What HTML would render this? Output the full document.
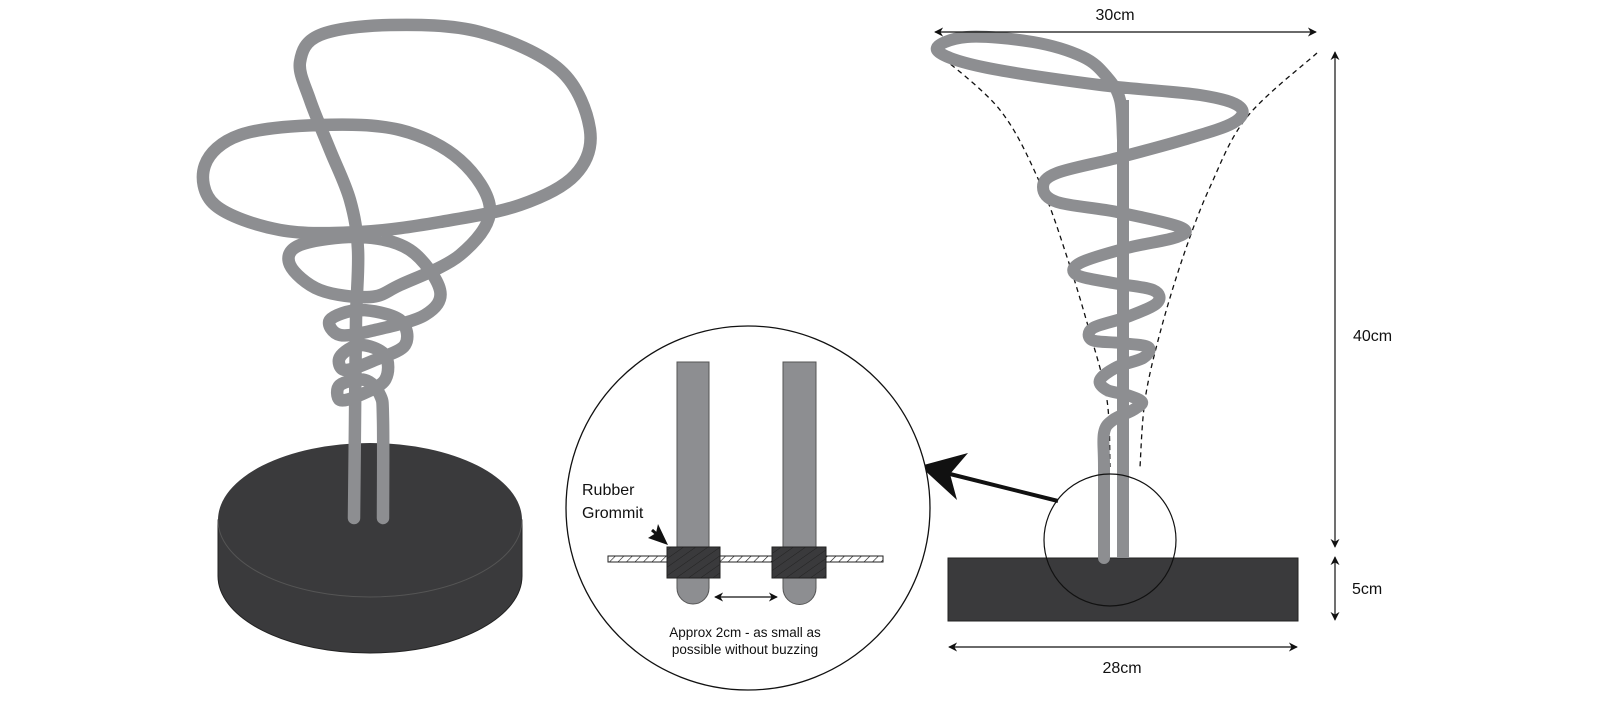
<!DOCTYPE html>
<html><head><meta charset="utf-8"><style>
html,body{margin:0;padding:0;background:#fff;width:1600px;height:708px;overflow:hidden}
svg text{font-family:"Liberation Sans",sans-serif;fill:#111}
</style></head><body>
<svg id="s" width="1600" height="708" viewBox="0 0 1600 708" xmlns="http://www.w3.org/2000/svg">
<defs>
<pattern id="hatch" width="6" height="6" patternUnits="userSpaceOnUse" patternTransform="rotate(45)">
<line x1="0" y1="0" x2="0" y2="6" stroke="#111" stroke-width="1.2"/></pattern>
<pattern id="hatch2" width="7" height="7" patternUnits="userSpaceOnUse" patternTransform="rotate(55)">
<line x1="0" y1="0" x2="0" y2="7" stroke="#222" stroke-width="1"/></pattern>
<marker id="ah" viewBox="0 0 10 10" refX="9" refY="5" markerWidth="9" markerHeight="9" orient="auto-start-reverse" markerUnits="userSpaceOnUse">
<path d="M0,0 L10,5 L0,10 L3,5 z" fill="#111"/></marker>
</defs>
<path d="M218,520 L218,576 A152,77 0 0 0 522,576 L522,520 Z" fill="#3a3a3c" stroke="#222" stroke-width="1"/>
<ellipse cx="370" cy="520" rx="152" ry="77" fill="#3a3a3c"/>
<path d="M218,520 A152,77 0 0 0 522,520" fill="none" stroke="#555" stroke-width="1"/>
<path id="lp" fill="none" stroke="#8d8e91" stroke-width="12.5" stroke-linecap="round" stroke-linejoin="round"/>

<rect x="948" y="558" width="350" height="63" fill="#3a3a3c" stroke="#222" stroke-width="1"/>
<path id="dl" fill="none" stroke="#111" stroke-width="1.3" stroke-dasharray="5,4"/>
<path id="dr" fill="none" stroke="#111" stroke-width="1.3" stroke-dasharray="5,4"/>
<path id="rp" fill="none" stroke="#8d8e91" stroke-width="12" stroke-linecap="round" stroke-linejoin="round"/>
<line x1="1123" y1="100" x2="1123" y2="558" stroke="#8d8e91" stroke-width="12"/>
<circle cx="1110" cy="540" r="66" fill="none" stroke="#111" stroke-width="1.2"/>

<line x1="935" y1="32" x2="1316" y2="32" stroke="#111" stroke-width="1.2" marker-start="url(#ah)" marker-end="url(#ah)"/>
<text x="1115" y="20" font-size="16" text-anchor="middle">30cm</text>
<line x1="1335" y1="52" x2="1335" y2="547" stroke="#111" stroke-width="1.2" marker-start="url(#ah)" marker-end="url(#ah)"/>
<text x="1353" y="341" font-size="16">40cm</text>
<line x1="1335" y1="557" x2="1335" y2="620" stroke="#111" stroke-width="1.2" marker-start="url(#ah)" marker-end="url(#ah)"/>
<text x="1352" y="594" font-size="16">5cm</text>
<line x1="949" y1="647" x2="1297" y2="647" stroke="#111" stroke-width="1.2" marker-start="url(#ah)" marker-end="url(#ah)"/>
<text x="1122" y="673" font-size="16" text-anchor="middle">28cm</text>

<line x1="1058" y1="501" x2="950" y2="474" stroke="#111" stroke-width="4"/>
<path d="M920,466 L968,453 L950,474 L957,500 Z" fill="#111"/>

<circle cx="748" cy="508" r="182" fill="#fff" stroke="#111" stroke-width="1.3"/>
<path d="M677,362 L709,362 L709,588 A16,16 0 0 1 677,588 Z" fill="#8d8e91" stroke="#555" stroke-width="1"/>
<path d="M783,362 L816,362 L816,588 A16.5,16.5 0 0 1 783,588 Z" fill="#8d8e91" stroke="#555" stroke-width="1"/>
<g stroke="#222" stroke-width="1">
<rect x="608" y="556" width="60" height="6" fill="url(#hatch)"/>
<rect x="719" y="556" width="54" height="6" fill="url(#hatch)"/>
<rect x="825" y="556" width="58" height="6" fill="url(#hatch)"/>
<rect x="667" y="547" width="53" height="31" fill="#3a3a3c"/>
<rect x="667" y="547" width="53" height="31" fill="url(#hatch2)"/>
<rect x="772" y="547" width="54" height="31" fill="#3a3a3c"/>
<rect x="772" y="547" width="54" height="31" fill="url(#hatch2)"/>
</g>
<text x="582" y="495" font-size="16">Rubber</text>
<text x="582" y="518" font-size="16">Grommit</text>
<line x1="652" y1="530" x2="660" y2="537" stroke="#111" stroke-width="3"/>
<path d="M668,545 L648,538 L656,533 L658,524 Z" fill="#111"/>
<line x1="715" y1="597" x2="777" y2="597" stroke="#111" stroke-width="1.3" marker-start="url(#ah)" marker-end="url(#ah)"/>
<text x="745" y="637" font-size="13.5" text-anchor="middle">Approx 2cm - as small as</text>
<text x="745" y="654" font-size="13.5" text-anchor="middle">possible without buzzing</text>
</svg>
<script>
function cr(p){var d="M"+p[0][0]+","+p[0][1];for(var i=0;i<p.length-1;i++){var a=p[i-1]||p[i],b=p[i],c=p[i+1],e=p[i+2]||c;
d+=" C"+(b[0]+(c[0]-a[0])/6).toFixed(1)+","+(b[1]+(c[1]-a[1])/6).toFixed(1)+" "+(c[0]-(e[0]-b[0])/6).toFixed(1)+","+(c[1]-(e[1]-b[1])/6).toFixed(1)+" "+c[0]+","+c[1];}return d;}
var L=[[354,518],[355,420],[356,320],[358,250],[350,200],[330,150],[310,100],[300,62],[320,35],[390,25],[480,32],[560,70],[590,130],[575,175],[520,205],[440,222],[360,232],[280,230],[215,205],[205,165],[240,135],[320,125],[400,130],[460,160],[490,210],[460,255],[400,285],[370,297],[320,290],[290,265],[300,245],[360,237],[410,250],[440,290],[425,315],[375,330],[340,335],[330,320],[360,310],[400,320],[405,345],[375,360],[345,370],[340,357],[360,345],[385,355],[385,380],[360,395],[340,400],[340,385],[365,380],[380,395],[383,420],[383,518]];
document.getElementById("lp").setAttribute("d",cr(L));
var R=[[1104,558],[1104,467],[1104,433],[1113,420],[1133,410],[1142,402],[1127,395],[1107,390],[1100,380],[1117,367],[1143,358],[1148,347],[1120,343],[1092,340],[1093,328],[1127,317],[1157,303],[1153,290],[1113,283],[1077,275],[1080,263],[1127,248],[1177,237],[1180,227],[1117,212],[1057,202],[1043,187],[1057,173],[1117,158],[1183,140],[1233,123],[1240,107],[1200,95],[1100,85],[983,67],[937,50],[967,37],[1033,42],[1083,57],[1107,77],[1120,100],[1123,140]];
document.getElementById("rp").setAttribute("d",cr(R));
document.getElementById("dl").setAttribute("d",cr([[937,53],[1000,110],[1040,183],[1067,257],[1090,333],[1107,400],[1110,467]]));
document.getElementById("dr").setAttribute("d",cr([[1317,53],[1247,117],[1210,187],[1183,257],[1160,333],[1145,400],[1140,467]]));
</script>
</body></html>
